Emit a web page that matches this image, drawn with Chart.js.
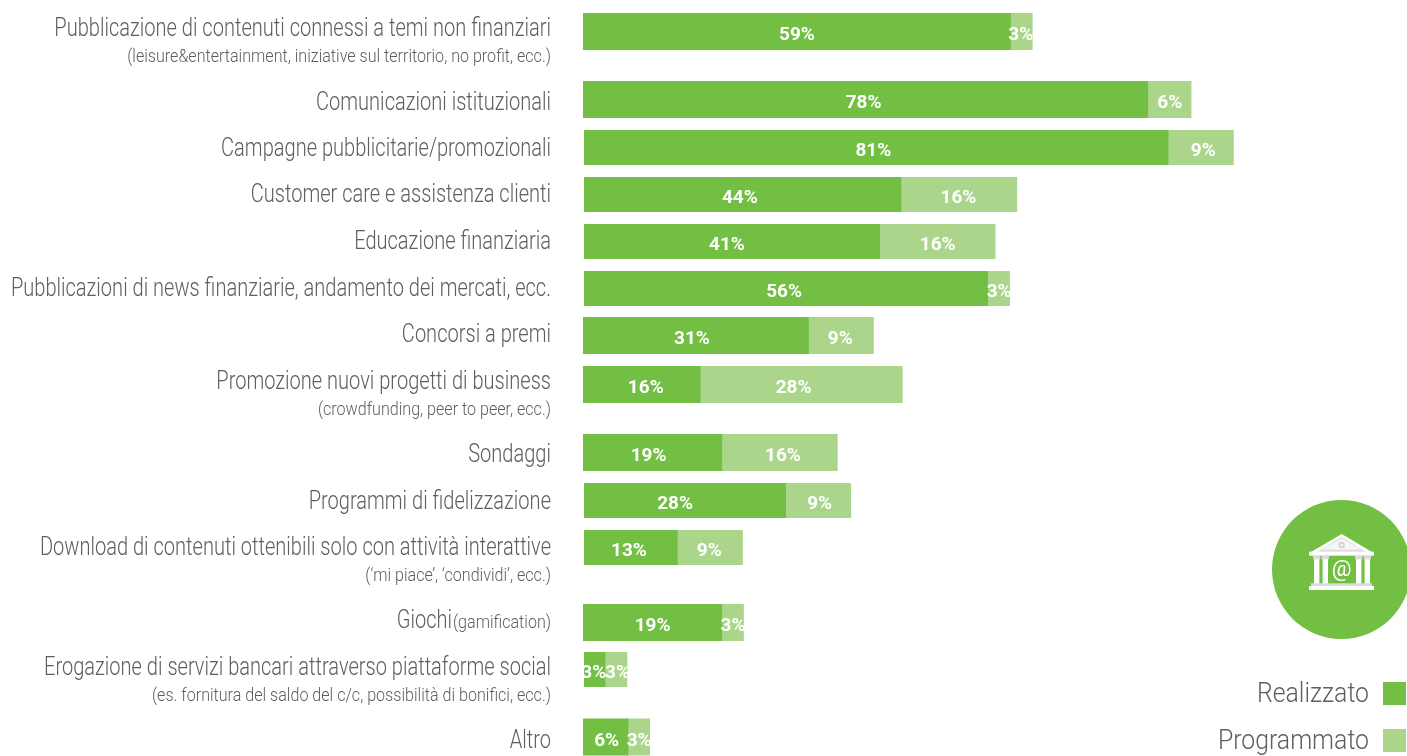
<!DOCTYPE html>
<html>
<head>
<meta charset="utf-8">
<style>
html,body{margin:0;padding:0;background:#fff;overflow:hidden}
#wrap{position:absolute;left:0;top:0;width:1407px;height:756px}
</style>
<script src="https://cdn.jsdelivr.net/npm/chart.js@4"></script>
</head>
<body>
<div id="wrap"><canvas id="c" width="1407" height="756"></canvas></div>
<script>
const categories = [
  "Pubblicazione di contenuti connessi a temi non finanziari",
  "Comunicazioni istituzionali",
  "Campagne pubblicitarie/promozionali",
  "Customer care e assistenza clienti",
  "Educazione finanziaria",
  "Pubblicazioni di news finanziarie, andamento dei mercati, ecc.",
  "Concorsi a premi",
  "Promozione nuovi progetti di business",
  "Sondaggi",
  "Programmi di fidelizzazione",
  "Download di contenuti ottenibili solo con attività interattive",
  "Giochi",
  "Erogazione di servizi bancari attraverso piattaforme social",
  "Altro"
];
const subLabels = [
  "(leisure&entertainment, iniziative sul territorio, no profit, ecc.)",
  "", "", "", "", "", "",
  "(crowdfunding, peer to peer, ecc.)",
  "", "",
  "(‘mi piace’, ‘condividi’, ecc.)",
  "(gamification)",
  "(es. fornitura del saldo del c/c, possibilità di bonifici, ecc.)",
  ""
];
const realizzato = [59, 78, 81, 44, 41, 56, 31, 16, 19, 28, 13, 19, 3, 6];
const programmato = [3, 6, 9, 16, 16, 3, 9, 28, 16, 9, 9, 3, 3, 3];
const seriesNames = ["Realizzato", "Programmato"];

// Row layout: vertical centre of each row and which rows are drawn slightly taller
const rowCentres = [31.5, 99.5, 147.5, 194.5, 241.5, 288.5, 335.5, 384.5, 452.5, 500.5, 547.5, 622.5, 669.5, 737];
const tallRows = [0, 1, 6, 7, 8, 11, 13];
// Text baselines of the row names and of the smaller second lines
const nameBaselines = [35.5, 109.5, 155.5, 201.5, 248.5, 295.5, 341.5, 388.5, 461.5, 508.5, 554.5, 627.5, 674.5, 748];
const subBaselines = [61.5, 0, 0, 0, 0, 0, 0, 414.5, 0, 0, 580.5, 627.5, 700.5, 0];
// Hand placement of the percentage labels relative to the middle of their segment
const labelShiftDark = [0, -2, -3, -3, -5, -2, -4, 4, -4, -10, -2, 0, -1, 1];
const labelShiftLight = [0, 1, 2, -1, 0, 0, 0, -7, 4, 1, -1, 1, 1, 1];

const DARK = "#72bf44", LIGHT = "#aad58a", INK = "#5e5e5e";
const SANS = "Roboto, sans-serif";

// Category axis whose rows sit at uneven heights, leaving room for two-line labels
class RowScale extends Chart.CategoryScale {
  getPixelForValue(value) {
    const i = Math.round(value);
    return value === null || rowCentres[i] === undefined ? NaN : rowCentres[i];
  }
}
RowScale.id = "rows";
RowScale.defaults = Chart.CategoryScale.defaults;
Chart.register(RowScale);

// Draws light, horizontally condensed text, right aligned at x
function condensed(ctx, text, x, y, size, squeeze, colour, align) {
  ctx.save();
  ctx.font = "300 " + size + "px " + SANS;
  ctx.fillStyle = colour;
  ctx.textAlign = align || "right";
  ctx.textBaseline = "alphabetic";
  ctx.translate(x, y);
  ctx.scale(squeeze, 1);
  ctx.fillText(text, 0, 0);
  ctx.restore();
}

const rowLabels = {
  id: "rowLabels",
  afterDatasetsDraw(chart) {
    const { ctx } = chart;
    const right = 551;
    categories.forEach((name, i) => {
      const inline = subBaselines[i] === nameBaselines[i];
      if (subLabels[i]) {
        condensed(ctx, subLabels[i], right, subBaselines[i], 19, 0.847, INK);
      }
      condensed(ctx, name, inline ? right - 99 : right, nameBaselines[i], 25, 0.802, INK);
    });
  }
};

const barValues = {
  id: "barValues",
  afterDatasetsDraw(chart) {
    const { ctx } = chart;
    const shifts = [labelShiftDark, labelShiftLight];
    ctx.save();
    ctx.fillStyle = "#fff";
    ctx.font = "bold 19px " + SANS;
    ctx.textAlign = "center";
    ctx.textBaseline = "middle";
    chart.data.datasets.forEach((ds, d) => {
      chart.getDatasetMeta(d).data.forEach((bar, i) => {
        const c = bar.getCenterPoint();
        ctx.fillText(ds.data[i] + "%", c.x + shifts[d][i], c.y + 4);
      });
    });
    ctx.restore();
  }
};

// Round emblem with the bank building, and the key beneath it
const emblemAndKey = {
  id: "emblemAndKey",
  afterDraw(chart) {
    const { ctx } = chart;
    ctx.save();
    ctx.fillStyle = DARK;
    ctx.beginPath();
    ctx.arc(1341.5, 569.5, 69.5, 0, Math.PI * 2);
    ctx.fill();

    // pediment
    ctx.fillStyle = "#fff";
    ctx.beginPath();
    ctx.moveTo(1341.7, 534);
    ctx.lineTo(1372, 552);
    ctx.lineTo(1311, 552);
    ctx.closePath();
    ctx.fill();
    ctx.fillStyle = "#dedede";
    ctx.beginPath();
    ctx.moveTo(1341.7, 537);
    ctx.lineTo(1366, 552);
    ctx.lineTo(1317, 552);
    ctx.closePath();
    ctx.fill();
    ctx.fillStyle = "#f6f6f6";
    ctx.beginPath();
    ctx.moveTo(1341.7, 538.5);
    ctx.lineTo(1361, 549.5);
    ctx.lineTo(1322, 549.5);
    ctx.closePath();
    ctx.fill();
    ctx.beginPath();
    ctx.arc(1341.7, 545, 2.4, 0, Math.PI * 2);
    ctx.strokeStyle = "#d0d0d0";
    ctx.lineWidth = 1.6;
    ctx.stroke();
    ctx.fillStyle = "#fff";
    ctx.fillRect(1309, 551.7, 65, 4);

    // columns with their capitals
    [1316.7, 1325.3, 1358.7, 1367.3].forEach(cx => {
      ctx.fillStyle = "#fff";
      ctx.fillRect(cx - 2.7, 559, 5.4, 25);
      ctx.fillStyle = "#dcdcdc";
      ctx.fillRect(cx - 3.6, 555.7, 7.2, 3.6);
    });

    // base
    ctx.fillStyle = "#dcdcdc";
    ctx.fillRect(1311, 583.3, 61, 2.7);
    ctx.fillStyle = "#fff";
    ctx.fillRect(1309, 586, 65, 4);

    ctx.font = "400 22px " + SANS;
    ctx.textAlign = "center";
    ctx.textBaseline = "middle";
    ctx.fillText("@", 1341.7, 570.5);

    // key
    const keyColours = [DARK, LIGHT];
    const keyTops = [682, 729];
    seriesNames.forEach((name, i) => {
      ctx.fillStyle = keyColours[i];
      ctx.fillRect(1383, keyTops[i], 23, 23);
      condensed(ctx, name, 1369, keyTops[i] + 20, 28, 0.885, INK);
    });
    ctx.restore();
  }
};

new Chart(document.getElementById("c"), {
  type: "bar",
  data: {
    labels: categories,
    datasets: [
      { label: seriesNames[0], data: realizzato, backgroundColor: DARK },
      { label: seriesNames[1], data: programmato, backgroundColor: LIGHT }
    ]
  },
  options: {
    indexAxis: "y",
    responsive: false,
    animation: false,
    layout: { padding: { left: 584, right: 0, top: 0, bottom: 0 } },
    datasets: {
      bar: {
        barThickness: 35,
        borderWidth: 0,
        clip: false,
        inflateAmount: ctx => tallRows.includes(ctx.dataIndex) ? 1 : 0
      }
    },
    scales: {
      x: {
        stacked: true,
        display: false,
        min: 0,
        max: 114,
        afterFit: s => { s.height = 0; }
      },
      y: {
        type: "rows",
        stacked: true,
        display: false,
        offset: true
      }
    },
    plugins: { legend: { display: false }, tooltip: { enabled: false } }
  },
  plugins: [rowLabels, barValues, emblemAndKey]
});
</script>
</body>
</html>
